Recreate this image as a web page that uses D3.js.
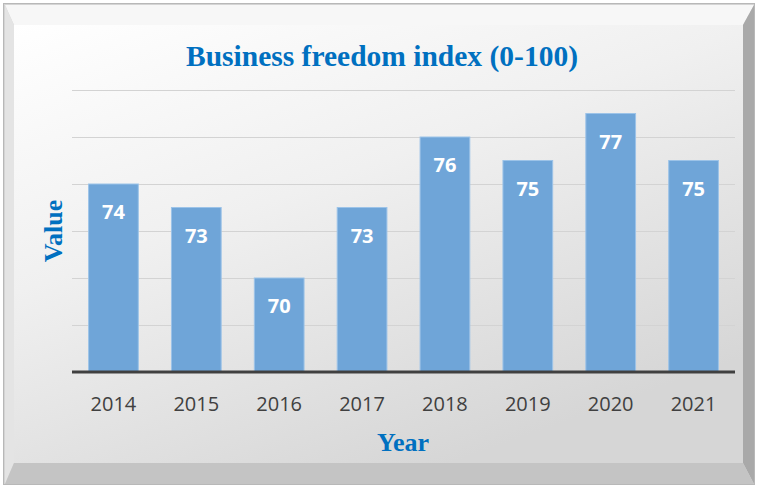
<!DOCTYPE html>
<html>
<head>
<meta charset="utf-8">
<script src="https://cdn.jsdelivr.net/npm/d3@7"></script>
<style>
  body { margin: 0; background: #fff; }
  svg { display: block; }
</style>
</head>
<body>
<div id="chart"></div>
<script>
// chart data
const years = ["2014", "2015", "2016", "2017", "2018", "2019", "2020", "2021"];
const values = [74, 73, 70, 73, 76, 75, 77, 75];
const yTicks = [66, 68, 70, 72, 74, 76, 78];

const width = 758, height = 488;
const svg = d3.select("#chart").append("svg")
    .attr("width", width)
    .attr("height", height);

const defs = svg.append("defs");
const grad = defs.append("linearGradient")
    .attr("id", "face")
    .attr("x1", "0%").attr("y1", "0%")
    .attr("x2", "60%").attr("y2", "100%");
grad.append("stop").attr("offset", "0%").attr("stop-color", "#ffffff");
grad.append("stop").attr("offset", "45%").attr("stop-color", "#f0f0f0");
grad.append("stop").attr("offset", "100%").attr("stop-color", "#d6d6d6");

// frame with bevel
svg.append("rect")
    .attr("x", 3.5).attr("y", 3.5)
    .attr("width", 751).attr("height", 481)
    .attr("fill", "#d4d4d4")
    .attr("stroke", "#b8b8b8");

const o = {l: 5, t: 5, r: 754, b: 484};
const f = {l: 14, t: 25, r: 743, b: 463};
const bevel = [
    {pts: [[o.l, o.t], [o.r, o.t], [f.r, f.t], [f.l, f.t]], c: "#f7f7f7"},
    {pts: [[o.l, o.t], [f.l, f.t], [f.l, f.b], [o.l, o.b]], c: "#e4e4e4"},
    {pts: [[o.r, o.t], [o.r, o.b], [f.r, f.b], [f.r, f.t]], c: "#a9a9a9"},
    {pts: [[o.l, o.b], [f.l, f.b], [f.r, f.b], [o.r, o.b]], c: "#c4c4c4"}
];
svg.selectAll(".bevel")
    .data(bevel)
    .join("polygon")
    .attr("class", "bevel")
    .attr("points", d => d.pts.map(p => p.join(",")).join(" "))
    .attr("fill", d => d.c);

svg.append("rect")
    .attr("x", f.l).attr("y", f.t)
    .attr("width", f.r - f.l).attr("height", f.b - f.t)
    .attr("fill", "url(#face)");

// plot area
const plot = {left: 72, right: 735, top: 90, bottom: 372};

const x = d3.scaleBand()
    .domain(years)
    .range([plot.left, plot.right])
    .paddingInner(0.4)
    .paddingOuter(0.2);

const y = d3.scaleLinear()
    .domain([66, 78])
    .range([plot.bottom, plot.top]);

// gridlines
svg.selectAll(".grid")
    .data(yTicks.slice(1))
    .join("line")
    .attr("class", "grid")
    .attr("x1", plot.left).attr("x2", plot.right)
    .attr("y1", d => y(d) + 0.5).attr("y2", d => y(d) + 0.5)
    .attr("stroke", "#d3d3d3")
    .attr("stroke-width", 1);

// bars
svg.selectAll(".bar")
    .data(values)
    .join("rect")
    .attr("class", "bar")
    .attr("x", (d, i) => x(years[i]))
    .attr("y", d => y(d))
    .attr("width", x.bandwidth())
    .attr("height", d => y(66) - y(d))
    .attr("fill", "#6fa5d8")
    .attr("stroke", "#9cc3e8")
    .attr("stroke-width", 1);

// value labels
svg.selectAll(".val")
    .data(values)
    .join("text")
    .attr("class", "val")
    .attr("x", (d, i) => x(years[i]) + x.bandwidth() / 2)
    .attr("y", d => y(d) + 35)
    .attr("text-anchor", "middle")
    .attr("font-family", "'Open Sans', sans-serif")
    .attr("font-weight", "bold")
    .attr("font-size", 20)
    .attr("fill", "#ffffff")
    .text(d => d);

// baseline
svg.append("line")
    .attr("x1", plot.left).attr("x2", plot.right)
    .attr("y1", plot.bottom).attr("y2", plot.bottom)
    .attr("stroke", "#404040")
    .attr("stroke-width", 3);

// x tick labels
svg.selectAll(".xtick")
    .data(years)
    .join("text")
    .attr("class", "xtick")
    .attr("x", d => x(d) + x.bandwidth() / 2)
    .attr("y", 411)
    .attr("text-anchor", "middle")
    .attr("font-family", "'Open Sans', sans-serif")
    .attr("font-size", 20)
    .attr("fill", "#404040")
    .text(d => d);

// titles
const serif = "'Liberation Serif', 'Times New Roman', serif";
svg.append("text")
    .attr("x", 382).attr("y", 66)
    .attr("text-anchor", "middle")
    .attr("font-family", serif)
    .attr("font-weight", "bold")
    .attr("font-size", 29.5)
    .attr("fill", "#0070c0")
    .text("Business freedom index (0-100)");

svg.append("text")
    .attr("x", 403).attr("y", 451)
    .attr("text-anchor", "middle")
    .attr("font-family", serif)
    .attr("font-weight", "bold")
    .attr("font-size", 26)
    .attr("fill", "#0070c0")
    .text("Year");

svg.append("text")
    .attr("transform", "translate(62,231) rotate(-90)")
    .attr("text-anchor", "middle")
    .attr("font-family", serif)
    .attr("font-weight", "bold")
    .attr("font-size", 26)
    .attr("fill", "#0070c0")
    .text("Value");
</script>
</body>
</html>
